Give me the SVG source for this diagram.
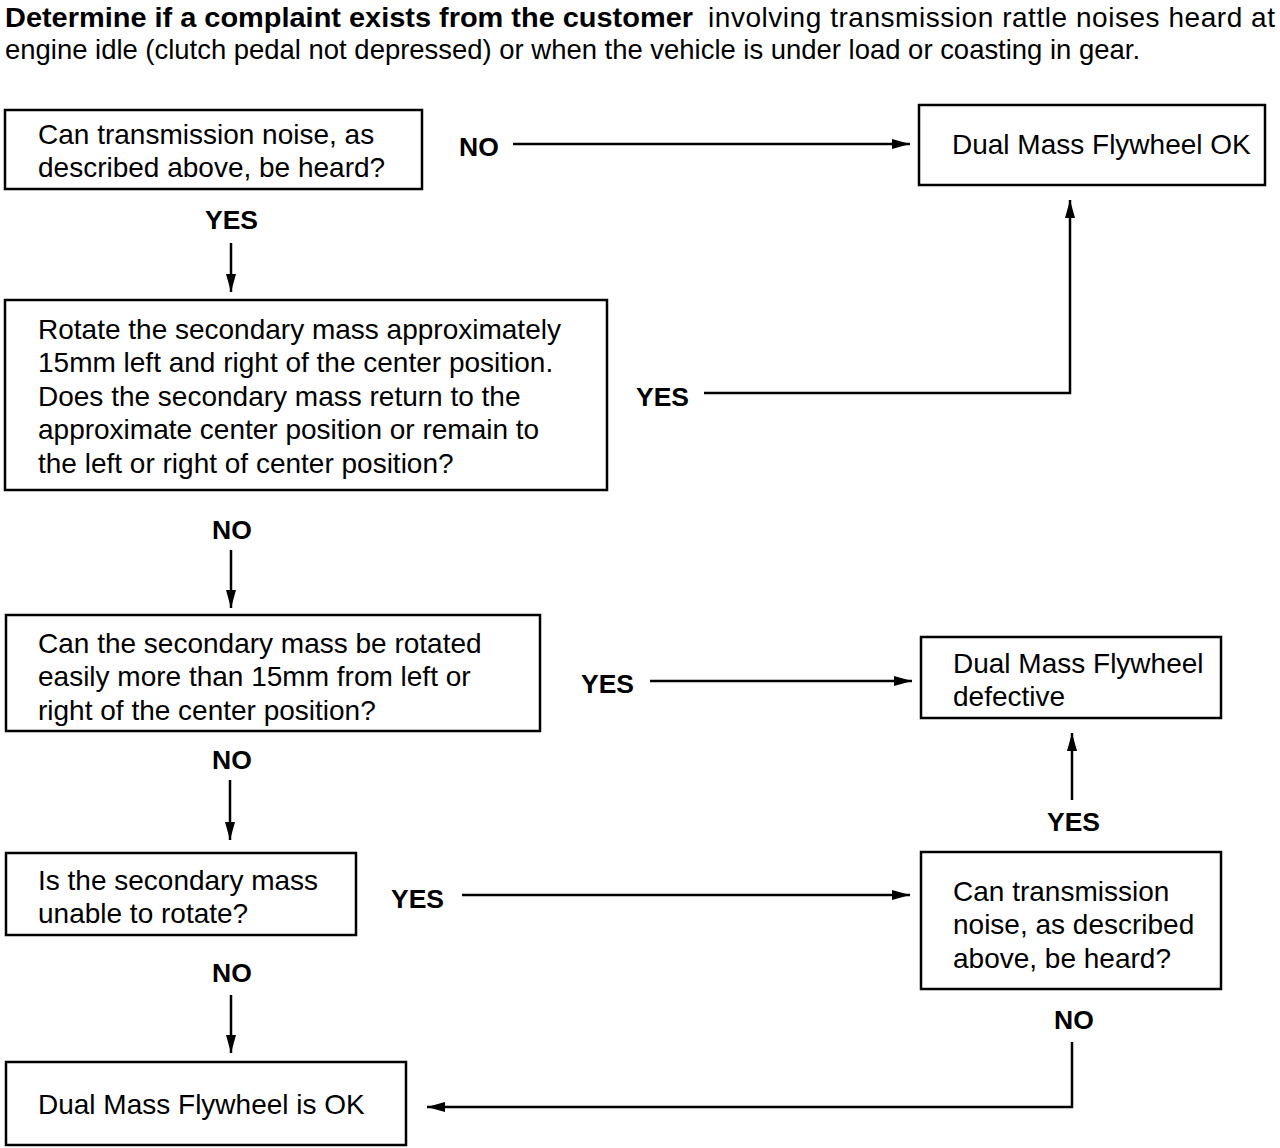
<svg xmlns="http://www.w3.org/2000/svg" width="1280" height="1148" viewBox="0 0 1280 1148">
<defs>
<marker id="ah" markerWidth="18" markerHeight="10" refX="18" refY="5" orient="auto" markerUnits="userSpaceOnUse">
<path d="M0,0 L18,5 L0,10 Z" fill="#000"/>
</marker>
<style>
.box{fill:#fff;stroke:#000;stroke-width:2.5}
.t{font-family:"Liberation Sans",Arial,sans-serif;font-size:28px;fill:#000}
.lb{font-family:"Liberation Sans",Arial,sans-serif;font-size:26.5px;font-weight:bold;fill:#000}
.c{fill:none;stroke:#000;stroke-width:2.5}
</style>
</defs>
<rect width="1280" height="1148" fill="#fff"/>
<g id="header">
<text class="t" x="5" y="27" font-weight="bold" textLength="688" lengthAdjust="spacingAndGlyphs">Determine if a complaint exists from the customer</text>
<text class="t" x="708" y="27" textLength="567" lengthAdjust="spacing">involving transmission rattle noises heard at</text>
<text class="t" x="5" y="59" textLength="1135" lengthAdjust="spacingAndGlyphs">engine idle (clutch pedal not depressed) or when the vehicle is under load or coasting in gear.</text>
</g>
<g id="connectors">
<line class="c" x1="513" y1="144" x2="910" y2="144" marker-end="url(#ah)"/>
<line class="c" x1="231" y1="243" x2="231" y2="292" marker-end="url(#ah)"/>
<polyline class="c" points="704,393 1070,393 1070,200" marker-end="url(#ah)"/>
<line class="c" x1="231" y1="550" x2="231" y2="608" marker-end="url(#ah)"/>
<line class="c" x1="650" y1="681" x2="912" y2="681" marker-end="url(#ah)"/>
<line class="c" x1="230" y1="780" x2="230" y2="840" marker-end="url(#ah)"/>
<line class="c" x1="1072" y1="800" x2="1072" y2="733" marker-end="url(#ah)"/>
<line class="c" x1="462" y1="895" x2="910" y2="895" marker-end="url(#ah)"/>
<line class="c" x1="231" y1="995" x2="231" y2="1053" marker-end="url(#ah)"/>
<polyline class="c" points="1072,1042 1072,1107 427,1107" marker-end="url(#ah)"/>
</g>
<g id="labels">
<text class="lb" x="459" y="156">NO</text>
<text class="lb" x="205" y="229">YES</text>
<text class="lb" x="636" y="406">YES</text>
<text class="lb" x="212" y="539">NO</text>
<text class="lb" x="581" y="693">YES</text>
<text class="lb" x="212" y="769">NO</text>
<text class="lb" x="1047" y="831">YES</text>
<text class="lb" x="391" y="908">YES</text>
<text class="lb" x="212" y="982">NO</text>
<text class="lb" x="1054" y="1029">NO</text>
</g>
<g id="n1">
<rect class="box" x="5" y="110" width="417" height="79"/>
<text class="t" x="38" y="144">Can transmission noise, as</text>
<text class="t" x="38" y="177">described above, be heard?</text>
</g>
<g id="n2">
<rect class="box" x="919" y="105" width="346" height="80"/>
<text class="t" x="952" y="154">Dual Mass Flywheel OK</text>
</g>
<g id="n3">
<rect class="box" x="5" y="300" width="602" height="190"/>
<text class="t" x="38" y="339">Rotate the secondary mass approximately</text>
<text class="t" x="38" y="372">15mm left and right of the center position.</text>
<text class="t" x="38" y="406">Does the secondary mass return to the</text>
<text class="t" x="38" y="439">approximate center position or remain to</text>
<text class="t" x="38" y="473">the left or right of center position?</text>
</g>
<g id="n4">
<rect class="box" x="6" y="615" width="534" height="116"/>
<text class="t" x="38" y="653">Can the secondary mass be rotated</text>
<text class="t" x="38" y="686">easily more than 15mm from left or</text>
<text class="t" x="38" y="720">right of the center position?</text>
</g>
<g id="n5">
<rect class="box" x="921" y="637" width="300" height="81"/>
<text class="t" x="953" y="673">Dual Mass Flywheel</text>
<text class="t" x="953" y="706">defective</text>
</g>
<g id="n6">
<rect class="box" x="6" y="853" width="350" height="82"/>
<text class="t" x="38" y="890">Is the secondary mass</text>
<text class="t" x="38" y="923">unable to rotate?</text>
</g>
<g id="n7">
<rect class="box" x="921" y="852" width="300" height="137"/>
<text class="t" x="953" y="901">Can transmission</text>
<text class="t" x="953" y="934">noise, as described</text>
<text class="t" x="953" y="968">above, be heard?</text>
</g>
<g id="n8">
<rect class="box" x="6" y="1062" width="400" height="83"/>
<text class="t" x="38" y="1114">Dual Mass Flywheel is OK</text>
</g>
</svg>
